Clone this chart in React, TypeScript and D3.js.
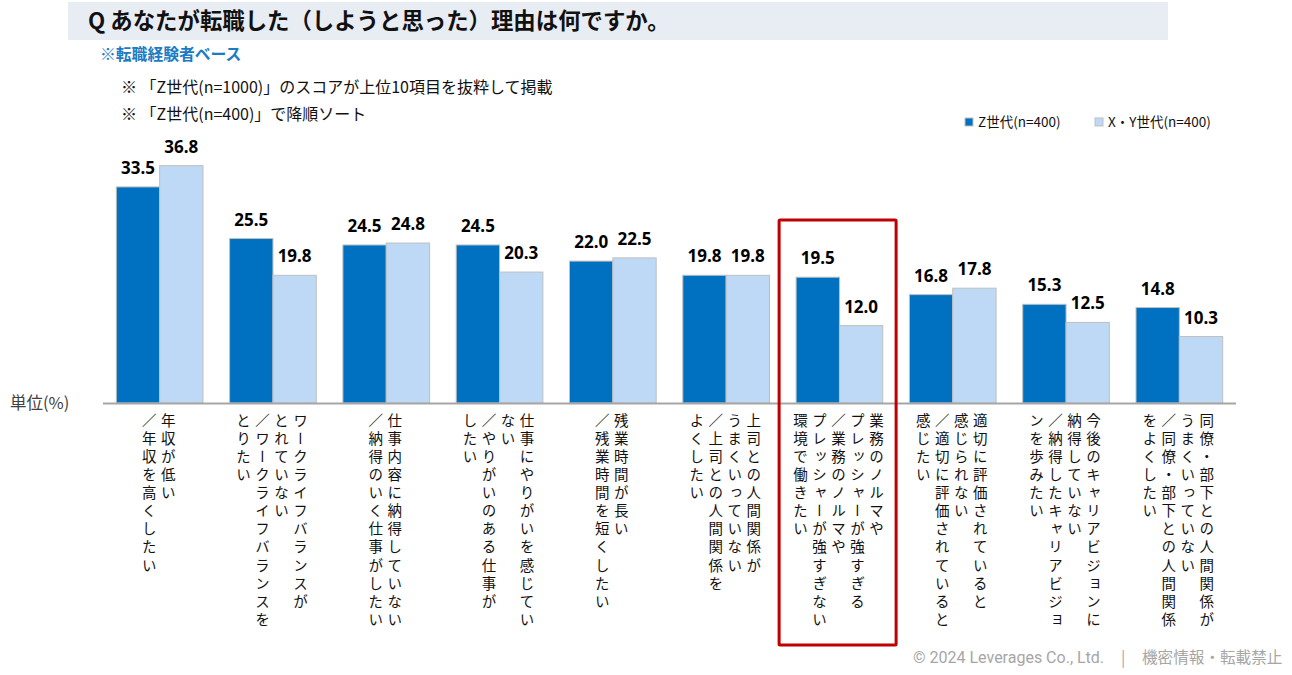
import React from "react";
import * as d3 from "d3";

// vertical category labels, one string per column (right to left)
const categories: string[][] = [
  ["年収が低い", "／年収を高くしたい"],
  ["ワークライフバランスが", "とれていない", "／ワークライフバランスを", "とりたい"],
  ["仕事内容に納得していない", "／納得のいく仕事がしたい"],
  ["仕事にやりがいを感じてい", "ない", "／やりがいのある仕事が", "したい"],
  ["残業時間が長い", "／残業時間を短くしたい"],
  ["上司との人間関係が", "うまくいっていない", "／上司との人間関係を", "よくしたい"],
  ["業務のノルマや", "プレッシャーが強すぎる", "／業務のノルマや", "プレッシャーが強すぎない", "環境で働きたい"],
  ["適切に評価されていると", "感じられない", "／適切に評価されていると", "感じたい"],
  ["今後のキャリアビジョンに", "納得していない", "／納得したキャリアビジョ", "ンを歩みたい"],
  ["同僚・部下との人間関係が", "うまくいっていない", "／同僚・部下との人間関係", "をよくしたい"],
];

const seriesNames = ["Z世代(n=400)", "X・Y世代(n=400)"];
const genZ = [33.5, 25.5, 24.5, 24.5, 22.0, 19.8, 19.5, 16.8, 15.3, 14.8];
const genXY = [36.8, 19.8, 24.8, 20.3, 22.5, 19.8, 12.0, 17.8, 12.5, 10.3];
const highlightIndex = 6;

const title = "Q あなたが転職した（しようと思った）理由は何ですか。";
const baseNote = "※転職経験者ベース";
const notes = [
  "※ 「Z世代(n=1000)」のスコアが上位10項目を抜粋して掲載",
  "※ 「Z世代(n=400)」で降順ソート",
];

const W = 1292;
const H = 675;
const plot = { left: 103, right: 1236, top: 145, bottom: 403 };
const colors = ["#0070C0", "#BDD9F6"];
const jpFont = "'Noto Sans CJK JP', 'Noto Sans', sans-serif";

const App: React.FC = () => {
  const keys = categories.map((_, i) => String(i));

  const x = d3
    .scaleBand<string>()
    .domain(keys)
    .range([plot.left, plot.right])
    .paddingInner(0.235)
    .paddingOuter(0.1175);

  const xInner = d3
    .scaleBand<number>()
    .domain([0, 1])
    .range([0, x.bandwidth()]);

  const y = d3.scaleLinear().domain([0, 40]).range([plot.bottom, plot.top]);

  const series = [genZ, genXY];
  const colPitch = 19;
  const hl = x(String(highlightIndex))!;

  return (
    <svg
      width={W}
      height={H}
      style={{ position: "absolute", left: 0, top: 0, background: "#fff" }}
      fontFamily={jpFont}
    >
      {/* header band */}
      <rect x={68} y={2} width={1100} height={38} fill="#E8EDF3" />
      <text x={88} y={29} fontSize={22.4} fontWeight={700} fill="#111">
        {title}
      </text>
      <text x={100} y={60} fontSize={15.8} fontWeight={700} fill="#1B7BC4">
        {baseNote}
      </text>
      {notes.map((n, i) => (
        <text key={n} x={121} y={93 + i * 27} fontSize={16} fill="#111">
          {n}
        </text>
      ))}

      {/* legend */}
      {seriesNames.map((s, i) => (
        <g key={s} transform={`translate(${965 + i * 130},118)`}>
          <rect width={8} height={8} fill={colors[i]} stroke="#BFBFBF" strokeWidth={1} />
          <text x={13} y={9} fontSize={13.5} fill="#111">
            {s}
          </text>
        </g>
      ))}

      <text x={10} y={409} fontSize={16.5} fill="#404040">
        単位(%)
      </text>

      {/* bars */}
      {keys.map((k, ci) => (
        <g key={k} transform={`translate(${x(k)},0)`}>
          {series.map((vals, si) => {
            const bx = xInner(si)!;
            const bw = xInner.bandwidth();
            return (
              <g key={si}>
                <rect
                  x={bx}
                  y={y(vals[ci])}
                  width={bw}
                  height={y(0) - y(vals[ci])}
                  fill={colors[si]}
                  stroke="#BFBFBF"
                  strokeWidth={1}
                />
                <text
                  x={bx + bw / 2}
                  y={y(vals[ci]) - 13}
                  textAnchor="middle"
                  fontFamily="'Noto Sans', sans-serif"
                  fontWeight={700}
                  fontSize={17}
                  fill="#000"
                >
                  {vals[ci].toFixed(1)}
                </text>
              </g>
            );
          })}
        </g>
      ))}

      {/* baseline */}
      <line
        x1={plot.left}
        x2={plot.right}
        y1={plot.bottom + 0.5}
        y2={plot.bottom + 0.5}
        stroke="#A6A6A6"
        strokeWidth={2}
      />

      {/* vertical category labels */}
      {categories.map((cols, ci) => {
        const cx = x(keys[ci])! - x.step() * 0.1175 + x.step() / 2 - 1;
        return cols.map((line, j) => (
          <text
            key={`${ci}-${j}`}
            x={cx + ((cols.length - 1) / 2 - j) * colPitch}
            y={413}
            fontSize={14.5}
            letterSpacing={3.6}
            fill="#111"
            style={{ writingMode: "vertical-rl" }}
          >
            {line}
          </text>
        ));
      })}

      {/* highlighted category */}
      <rect
        x={hl - 17}
        y={220}
        width={117}
        height={425}
        fill="none"
        stroke="#C00000"
        strokeWidth={3}
        rx={1}
      />

      {/* footer */}
      <text x={913} y={663} fontSize={16} fill="#A6A6A6" fontFamily="Roboto, sans-serif">
        © 2024 Leverages Co., Ltd.
      </text>
      <text x={1121} y={663} fontSize={16} fill="#A6A6A6">
        |
      </text>
      <text x={1142} y={663} fontSize={15.6} fill="#A6A6A6">
        機密情報・転載禁止
      </text>
    </svg>
  );
};

export default App;
